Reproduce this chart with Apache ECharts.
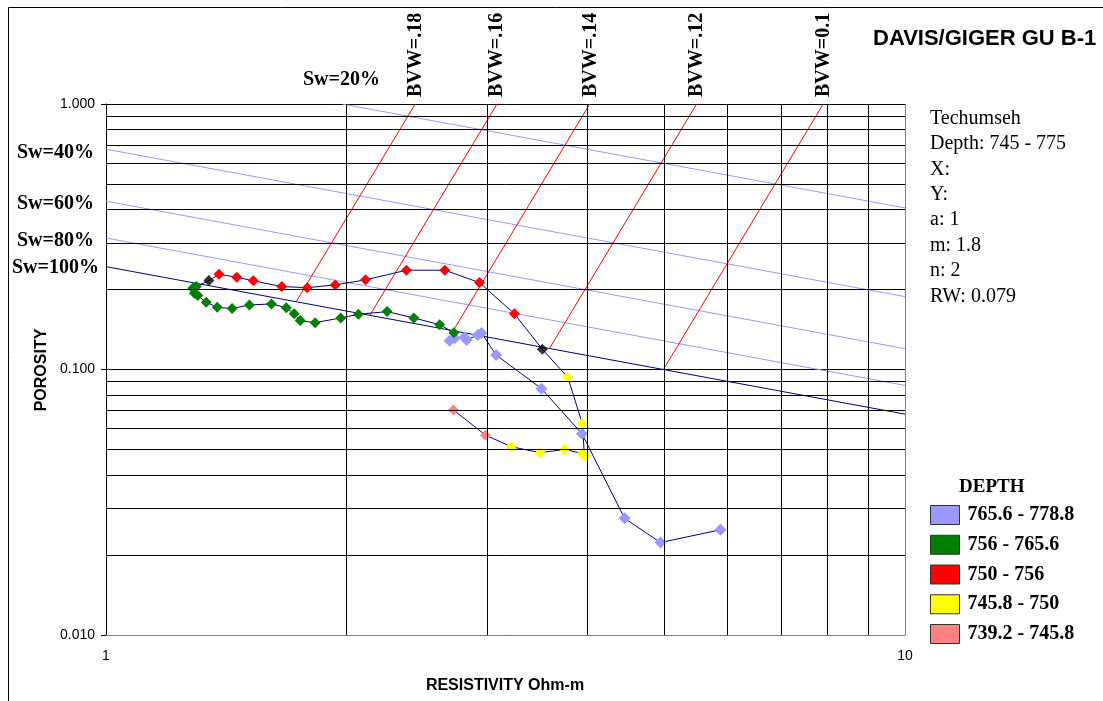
<!DOCTYPE html>
<html>
<head>
<meta charset="utf-8">
<script src="https://cdn.jsdelivr.net/npm/echarts@6/dist/echarts.min.js"></script>
<style>
  html, body { margin: 0; padding: 0; background: #fff; }
  #chart { width: 1103px; height: 701px; }
</style>
</head>
<body>
<div id="chart"></div>
<script>
// ---- Log data: [resistivity (ohm-m), porosity], in depth order ----
const pinkPts = [[2.722, 0.0704], [2.985, 0.0566]];
const yellowPts = [[3.215, 0.0512], [3.495, 0.0486], [3.749, 0.0500], [3.945, 0.0483],
  [3.971, 0.0472], [3.945, 0.0627], [3.784, 0.0935]];
const boundaryPtsA = [[3.516, 0.1192]];
const redPts = [[3.245, 0.162], [2.934, 0.2125], [2.655, 0.2366], [2.377, 0.2366],
  [2.113, 0.2176], [1.936, 0.2083], [1.786, 0.2034], [1.660, 0.2052], [1.529, 0.2157],
  [1.458, 0.2227], [1.385, 0.2282]];
const boundaryPtsB = [[1.345, 0.2162]];
const greenPts = [[1.297, 0.2052], [1.284, 0.2024], [1.290, 0.1938], [1.303, 0.1898],
  [1.335, 0.1792], [1.378, 0.1716], [1.438, 0.1696], [1.512, 0.1751], [1.611, 0.1766],
  [1.681, 0.1710], [1.720, 0.1620], [1.750, 0.1528], [1.827, 0.1501], [1.967, 0.1564],
  [2.070, 0.1615], [2.248, 0.1652], [2.428, 0.1564], [2.616, 0.1475], [2.725, 0.1376]];
const lavenderPts = [[2.692, 0.1284], [2.731, 0.1311], [2.810, 0.1322], [2.827, 0.1292],
  [2.920, 0.1349], [2.951, 0.1373], [3.078, 0.1134], [3.508, 0.0847], [3.942, 0.0573],
  [4.457, 0.0275], [4.943, 0.0223], [5.876, 0.0249]];

// Depth-range names for the legend (deepest first)
const depthLabels = ['765.6 - 778.8', '756 - 765.6', '750 - 756', '745.8 - 750', '739.2 - 745.8'];

// Water saturation lines (a=1, m=1.8, n=2, Rw=0.079): start and end points
const swNames = ['Sw=20%', 'Sw=40%', 'Sw=60%', 'Sw=80%', 'Sw=100%'];
const swStart = [[1.975, 1], [1, 0.6757], [1, 0.4305], [1, 0.3128], [1, 0.244]];
const swEnd = [[10, 0.406], [10, 0.1881], [10, 0.1198], [10, 0.0871], [10, 0.0679]];

// Bulk volume water lines: start (porosity 1) and end (on Sw=100%)
const bvwNames = ['BVW=.18', 'BVW=.16', 'BVW=.14', 'BVW=.12', 'BVW=0.1'];
const bvwStart = [[2.438, 1], [3.086, 1], [4.031, 1], [5.486, 1], [7.9, 1]];
const bvwEnd = [[1.730, 0.18], [2.139, 0.16], [2.720, 0.14], [3.590, 0.12], [4.985, 0.1]];

// Log-cycle grid values
const xMinor = [2, 3, 4, 5, 6, 7, 8, 9];
const yMinor = [0.02, 0.03, 0.04, 0.05, 0.06, 0.07, 0.08, 0.09,
  0.2, 0.3, 0.4, 0.5, 0.6, 0.7, 0.8, 0.9];

// Well information panel
const infoLines = ['Techumseh', 'Depth: 745 - 775', 'X:', 'Y:', 'a: 1', 'm: 1.8', 'n: 2', 'RW: 0.079'];

const SERIF = '"Liberation Serif", "Times New Roman", serif';
const SANS = '"Liberation Sans", Arial, sans-serif';

const chart = echarts.init(document.getElementById('chart'));

const series = [];

// log-cycle grid lines
series.push({
  type: 'line', data: [[1, 1]], showSymbol: false, silent: true, z: 1,
  lineStyle: { width: 0 },
  markLine: {
    silent: true, symbol: 'none', animation: false,
    label: { show: false },
    lineStyle: { type: 'solid', color: '#000', width: 1 },
    emphasis: { disabled: true },
    data: xMinor.map(v => ({ xAxis: v })).concat(yMinor.map(v => ({ yAxis: v })))
  }
});

// Sw lines
swNames.forEach((name, i) => {
  series.push({
    type: 'line', name, data: [swStart[i], swEnd[i]], showSymbol: false, silent: true, z: 2,
    lineStyle: { color: name === 'Sw=100%' ? '#000080' : '#9999FF', width: 1 }
  });
});

// BVW lines
bvwNames.forEach((name, i) => {
  series.push({
    type: 'line', name, data: [bvwStart[i], bvwEnd[i]], showSymbol: false, silent: true, z: 2,
    lineStyle: { color: '#FF0000', width: 1 }
  });
});

// connecting path through all samples, shallow to deep
const path = [].concat(pinkPts, yellowPts, boundaryPtsA, redPts, boundaryPtsB, greenPts, lavenderPts);
series.push({
  type: 'line', data: path, showSymbol: false, silent: true, z: 3,
  lineStyle: { color: '#000080', width: 1 }
});

const groups = [
  { name: depthLabels[0], data: lavenderPts, color: '#9999FF', size: 12 },
  { name: depthLabels[1], data: greenPts, color: '#008000', size: 11 },
  { name: depthLabels[2], data: redPts, color: '#FF0000', size: 11 },
  { name: depthLabels[3], data: yellowPts, color: '#FFFF00', size: 11 },
  { name: depthLabels[4], data: pinkPts, color: '#FF8080', size: 11 }
];
groups.forEach(g => {
  series.push({
    type: 'scatter', name: g.name, data: g.data, symbol: 'diamond', symbolSize: g.size, z: 4,
    itemStyle: { color: g.color, opacity: 1 }
  });
});
series.push({
  type: 'scatter', name: 'boundary', data: boundaryPtsA.concat(boundaryPtsB),
  symbol: 'diamond', symbolSize: 11, z: 4, itemStyle: { color: '#000000' }
});

const graphics = [
  // outer frame
  { type: 'rect', shape: { x: 8.5, y: 7.5, width: 1200, height: 800 }, silent: true, z: -10,
    style: { fill: 'none', stroke: '#000', lineWidth: 1 } },
  { type: 'text', x: 873, y: 39, style: { text: 'DAVIS/GIGER GU B-1', fill: '#000',
    font: 'bold 22px ' + SANS, align: 'left', verticalAlign: 'middle' } },
  { type: 'text', x: 42, y: 370, rotation: Math.PI / 2, style: { text: 'POROSITY', fill: '#000',
    font: 'bold 16px ' + SANS, align: 'center', verticalAlign: 'middle' } },
  { type: 'text', x: 505, y: 686, style: { text: 'RESISTIVITY Ohm-m', fill: '#000',
    font: 'bold 16px ' + SANS, align: 'center', verticalAlign: 'middle' } },
  { type: 'text', x: 959, y: 487, style: { text: 'DEPTH', fill: '#000',
    font: 'bold 19px ' + SERIF, align: 'left', verticalAlign: 'middle' } }
];

// Sw labels
const swLabelPos = [[303, 80], [17, 153], [17, 204], [17, 241], [12, 268]];
swNames.forEach((t, i) => {
  graphics.push({ type: 'text', x: swLabelPos[i][0], y: swLabelPos[i][1],
    style: { text: t, fill: '#000', font: 'bold 20px ' + SERIF, align: 'left', verticalAlign: 'middle' } });
});

// BVW labels (vertical)
const bvwLabelX = [416, 497, 591, 697, 824];
bvwNames.forEach((t, i) => {
  graphics.push({ type: 'text', x: bvwLabelX[i], y: 97, rotation: Math.PI / 2,
    style: { text: t, fill: '#000', font: 'bold 20px ' + SERIF, align: 'left', verticalAlign: 'middle' } });
});

// info panel
infoLines.forEach((t, i) => {
  graphics.push({ type: 'text', x: 930, y: 118.5 + 25.4 * i,
    style: { text: t, fill: '#000', font: '20px ' + SERIF, align: 'left', verticalAlign: 'middle' } });
});

chart.setOption({
  animation: false,
  backgroundColor: '#fff',
  grid: { left: 106, top: 104, right: 198, bottom: 66, containLabel: false },
  xAxis: {
    type: 'log', logBase: 10, min: 1, max: 10,
    axisLine: { show: true, lineStyle: { color: '#808080', width: 1 } },
    axisTick: { show: false },
    axisLabel: { color: '#000', fontSize: 14, fontFamily: SANS, margin: 14 },
    splitLine: { show: true, lineStyle: { color: '#808080', width: 1 } },
    minorTick: { show: false }, minorSplitLine: { show: false }
  },
  yAxis: {
    type: 'log', logBase: 10, min: 0.01, max: 1,
    axisLine: { show: true, lineStyle: { color: '#000', width: 1 } },
    axisTick: { show: true, inside: false, length: 5, lineStyle: { color: '#000' } },
    axisLabel: { color: '#000', fontSize: 14, fontFamily: SANS, margin: 11,
      formatter: v => Number(v).toFixed(3) },
    splitLine: { show: true, lineStyle: { color: '#000', width: 1 } }
  },
  legend: {
    orient: 'vertical', left: 925, top: 500, icon: 'rect',
    itemWidth: 29, itemHeight: 19, itemGap: 9.75,
    itemStyle: { borderColor: '#333', borderWidth: 1 },
    textStyle: { color: '#000', fontFamily: SERIF, fontWeight: 'bold', fontSize: 20,
      lineHeight: 19, padding: [0, 0, 0, 3] },
    data: depthLabels, selectedMode: false
  },
  tooltip: { show: false },
  series,
  graphic: { elements: graphics }
});
</script>
</body>
</html>
